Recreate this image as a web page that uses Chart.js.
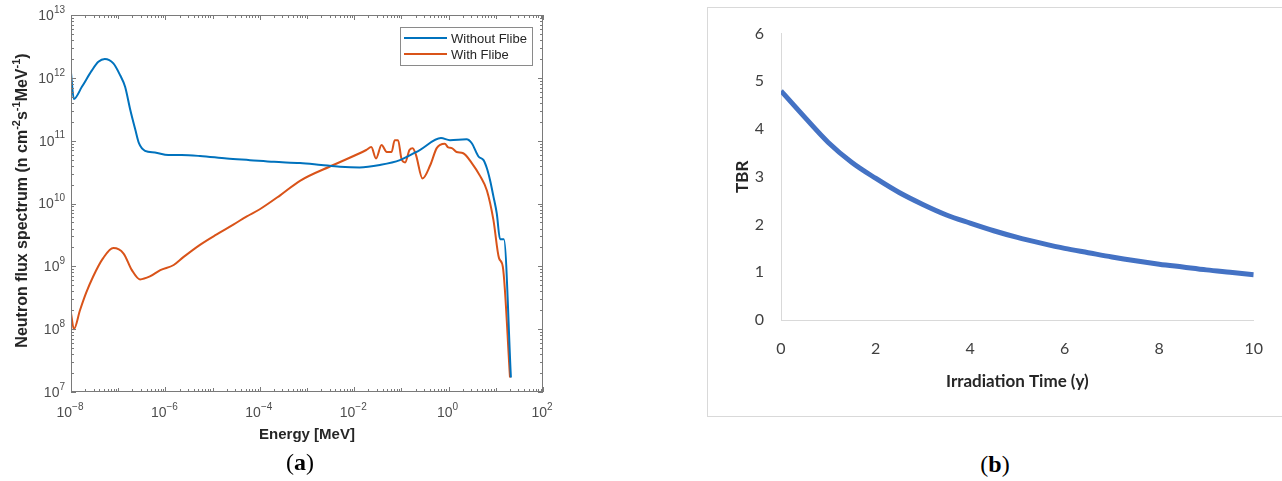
<!DOCTYPE html>
<html>
<head>
<meta charset="utf-8">
<script src="https://cdn.jsdelivr.net/npm/chart.js@4.4.1/dist/chart.umd.min.js"></script>
<style>
  html, body { margin: 0; padding: 0; background: #fff; }
  body { position: relative; width: 1282px; height: 481px; overflow: hidden; }
  #wrapA { position: absolute; left: 0; top: 0; width: 600px; height: 450px; }
  #boxB { position: absolute; left: 707px; top: 7px; width: 640px; height: 408px; border: 1px solid #d9d9d9; }
  #wrapB { position: absolute; left: 707px; top: 7px; width: 575px; height: 409px; }
  .caption { position: absolute; font-family: 'Liberation Serif', 'DejaVu Serif', serif; font-size: 24px; color: #000; transform: translate(-50%, -50%); white-space: nowrap; }
</style>
</head>
<body>
<div id="wrapA"><canvas id="chartFlux" width="600" height="450"></canvas></div>
<div id="boxB"></div>
<div id="wrapB"><canvas id="chartTbr" width="575" height="409"></canvas></div>
<div class="caption" style="left:300px; top:462px;">(<b>a</b>)</div>
<div class="caption" style="left:995px; top:464px;">(<b>b</b>)</div>

<script>
// (a) neutron flux spectrum
const energyWithout = [1.0e-8, 1.15e-8, 1.7e-8, 2.75e-8, 3.8e-8, 5.2e-8, 7.9e-8, 1.1e-7, 1.4e-7, 1.8e-7,
  2.3e-7, 2.75e-7, 3.7e-7, 6.0e-7, 1.15e-6, 2.2e-6, 5.4e-6, 2.0e-5, 6.2e-5, 2.0e-4,
  7.1e-4, 2.0e-3, 5.0e-3, 1.3e-2, 3.5e-2, 9.3e-2, 0.245, 0.69, 1.07, 2.4,
  3.1, 4.3, 5.5, 6.5, 7.6, 8.9, 10.5, 12.3, 14.8, 20.9];
const fluxWithout = [1.2e12, 4.6e11, 7.2e11, 1.3e12, 1.8e12, 2.0e12, 1.7e12, 1.1e12, 7.2e11, 3.1e11,
  1.5e11, 9.1e10, 6.9e10, 6.5e10, 5.9e10, 5.9e10, 5.7e10, 5.2e10, 4.9e10, 4.6e10,
  4.4e10, 4.1e10, 3.85e10, 3.75e10, 4.1e10, 4.9e10, 7.1e10, 1.1e11, 1.02e11, 1.05e11,
  9.1e10, 5.6e10, 4.9e10, 3.6e10, 2.3e10, 1.3e10, 6.9e9, 2.7e9, 2.7e9, 1.7e7];

const energyWith = [1.0e-8, 1.15e-8, 1.55e-8, 2.1e-8, 2.95e-8, 4.8e-8, 7.9e-8, 1.3e-7, 1.95e-7, 2.9e-7,
  4.7e-7, 7.8e-7, 1.5e-6, 2.4e-6, 5.4e-6, 1.2e-5, 2.75e-5, 5.2e-5, 1.0e-4, 2.7e-4,
  7.1e-4, 3.6e-3, 1.8e-2, 2.3e-2, 2.9e-2, 3.8e-2, 4.9e-2, 6.2e-2, 7.2e-2, 8.5e-2,
  0.10, 0.12, 0.148, 0.174, 0.204, 0.28, 0.41, 0.56, 0.83, 0.98,
  1.17, 1.48, 2.04, 3.1, 4.7, 6.5, 8.9, 11.7, 14.1, 20.0];
const fluxWith = [1.8e8, 1.0e8, 2.0e8, 3.8e8, 6.9e8, 1.35e9, 1.95e9, 1.6e9, 8.7e8, 6.2e8,
  6.9e8, 8.7e8, 1.05e9, 1.4e9, 2.2e9, 3.2e9, 4.6e9, 6.2e9, 8.1e9, 1.35e10,
  2.3e10, 4.1e10, 7.1e10, 7.9e10, 5.2e10, 8.5e10, 6.6e10, 6.6e10, 1.02e11, 1.02e11,
  5.2e10, 4.5e10, 7.1e10, 7.6e10, 5.9e10, 2.5e10, 4.1e10, 7.6e10, 8.9e10, 7.8e10,
  7.6e10, 6.6e10, 6.3e10, 4.4e10, 2.7e10, 1.6e10, 5.5e9, 1.35e9, 9.8e8, 1.7e7];

const energyTicks = [1e-8, 1e-6, 1e-4, 1e-2, 1e0, 1e2];
const fluxTicks = [1e7, 1e8, 1e9, 1e10, 1e11, 1e12, 1e13];

// (b) TBR against irradiation time
const tbrTime = [0, 0.5, 1, 1.5, 2, 2.5, 3, 3.5, 4, 4.5, 5, 5.5, 6, 6.5, 7, 7.5, 8, 8.5, 9, 9.5, 10];
const tbrValue = [4.8, 4.25, 3.72, 3.3, 2.97, 2.67, 2.42, 2.2, 2.03, 1.87, 1.73, 1.61, 1.50, 1.41, 1.32, 1.24, 1.17, 1.11, 1.05, 1.0, 0.95];
const timeTicks = [0, 2, 4, 6, 8, 10];

const BLUE = '#0072BD';
const ORANGE = '#D95319';
const AXIS_GREY = '#7a7a7a';
const SANS = "'Liberation Sans', Arial, sans-serif";

const toPoints = (xs, ys) => xs.map((x, i) => ({ x, y: ys[i] }));

// "10" with a raised exponent, the way MATLAB writes log tick labels
function drawPower(ctx, v, x, y, align) {
  const exp = String(Math.round(Math.log10(v))).replace('-', '\u2212');
  ctx.font = '14px ' + SANS;
  const wBase = ctx.measureText('10').width;
  ctx.font = '10px ' + SANS;
  const wExp = ctx.measureText(exp).width;
  const total = wBase + wExp;
  const x0 = align === 'center' ? x - total / 2 : x - total;
  ctx.textAlign = 'left';
  ctx.textBaseline = 'middle';
  ctx.font = '14px ' + SANS;
  ctx.fillText('10', x0, y);
  ctx.font = '10px ' + SANS;
  ctx.fillText(exp, x0 + wBase, y - 6);
}

// rotated y title with real superscripts
function drawFluxTitle(ctx, cx, cy) {
  const parts = [
    ['Neutron flux spectrum (n cm', false], ['-2', true], ['s', false], ['-1', true],
    ['MeV', false], ['-1', true], [')', false],
  ];
  const big = 'bold 16px ' + SANS;
  const small = 'bold 11px ' + SANS;
  let total = 0;
  parts.forEach(([t, sup]) => { ctx.font = sup ? small : big; total += ctx.measureText(t).width; });
  ctx.save();
  ctx.translate(cx, cy);
  ctx.rotate(-Math.PI / 2);
  ctx.fillStyle = '#262626';
  ctx.textAlign = 'left';
  ctx.textBaseline = 'alphabetic';
  let pos = -total / 2;
  parts.forEach(([t, sup]) => {
    ctx.font = sup ? small : big;
    ctx.fillText(t, pos, sup ? -7 : 0);
    pos += ctx.measureText(t).width;
  });
  ctx.restore();
}

// box + inward ticks on all four sides, tick labels, y title and the legend
const matlabFrame = {
  id: 'matlabFrame',
  afterDatasetsDraw(chart) {
    const { ctx, chartArea: a, scales: { x, y } } = chart;
    ctx.save();
    ctx.strokeStyle = AXIS_GREY;
    ctx.lineWidth = 1;
    ctx.strokeRect(a.left + 0.5, a.top + 0.5, a.right - a.left - 1, a.bottom - a.top - 1);

    ctx.beginPath();
    for (let e = -8; e <= 2; e++) {
      for (let m = 1; m <= 9; m++) {
        const v = m * Math.pow(10, e);
        if (v > 1e2 * 1.0001) break;
        const px = Math.round(x.getPixelForValue(v)) + 0.5;
        const len = m === 1 ? (e % 2 === 0 ? 5 : 4) : 3;
        ctx.moveTo(px, a.bottom); ctx.lineTo(px, a.bottom - len);
        ctx.moveTo(px, a.top); ctx.lineTo(px, a.top + len);
      }
    }
    for (let e = 7; e <= 13; e++) {
      for (let m = 1; m <= 9; m++) {
        const v = m * Math.pow(10, e);
        if (v > 1e13 * 1.0001) break;
        const py = Math.round(y.getPixelForValue(v)) + 0.5;
        const len = m === 1 ? 5 : 3;
        ctx.moveTo(a.left, py); ctx.lineTo(a.left + len, py);
        ctx.moveTo(a.right, py); ctx.lineTo(a.right - len, py);
      }
    }
    ctx.stroke();

    ctx.fillStyle = '#4d4d4d';
    x.ticks.forEach((t) => drawPower(ctx, t.value, x.getPixelForValue(t.value) - 1, a.bottom + 21, 'center'));
    y.ticks.forEach((t) => drawPower(ctx, t.value, a.left - 6, y.getPixelForValue(t.value) + 1, 'right'));

    drawFluxTitle(ctx, 27, (a.top + a.bottom) / 2 - 3);

    // legend box in the upper right corner
    const bw = 132, bh = 38;
    const bx = a.right - 11 - bw, by = a.top + 12;
    ctx.fillStyle = '#fff';
    ctx.fillRect(bx, by, bw, bh);
    ctx.strokeStyle = '#8a8a8a';
    ctx.strokeRect(bx + 0.5, by + 0.5, bw, bh);
    ctx.font = '13px ' + SANS;
    ctx.textAlign = 'left';
    ctx.textBaseline = 'middle';
    chart.data.datasets.forEach((ds, i) => {
      const ly = by + 11 + i * 16;
      ctx.strokeStyle = ds.borderColor;
      ctx.lineWidth = 2;
      ctx.beginPath();
      ctx.moveTo(bx + 4, ly); ctx.lineTo(bx + 47, ly);
      ctx.stroke();
      ctx.fillStyle = '#262626';
      ctx.fillText(ds.label, bx + 51, ly + 1);
    });
    ctx.restore();
  },
};

new Chart(document.getElementById('chartFlux'), {
  type: 'line',
  data: {
    datasets: [
      {
        label: 'Without Flibe',
        data: toPoints(energyWithout, fluxWithout),
        borderColor: BLUE,
        borderWidth: 2,
        pointRadius: 0,
        cubicInterpolationMode: 'monotone',
      },
      {
        label: 'With Flibe',
        data: toPoints(energyWith, fluxWith),
        borderColor: ORANGE,
        borderWidth: 2,
        pointRadius: 0,
        cubicInterpolationMode: 'monotone',
      },
    ],
  },
  options: {
    responsive: false,
    animation: false,
    layout: { padding: { top: 15, right: 57, left: 0, bottom: 0 } },
    plugins: { legend: { display: false }, tooltip: { enabled: false } },
    scales: {
      x: {
        type: 'logarithmic',
        min: 1e-8,
        max: 1e2,
        afterBuildTicks(scale) { scale.ticks = energyTicks.map((value) => ({ value })); },
        afterFit(scale) { scale.height = 58; },
        grid: { display: false, drawTicks: false },
        border: { display: false },
        ticks: { display: false },
        title: {
          display: true,
          text: 'Energy [MeV]',
          color: '#262626',
          font: { family: SANS, size: 15, weight: 'bold' },
          padding: { top: 0, bottom: 6 },
        },
      },
      y: {
        type: 'logarithmic',
        min: 1e7,
        max: 1e13,
        afterBuildTicks(scale) { scale.ticks = fluxTicks.map((value) => ({ value })); },
        afterFit(scale) { scale.width = 71; },
        grid: { display: false, drawTicks: false },
        border: { display: false },
        ticks: { display: false },
      },
    },
  },
  plugins: [matlabFrame],
});

const EXCEL_FONT = "Lato, 'Open Sans', sans-serif";

new Chart(document.getElementById('chartTbr'), {
  type: 'line',
  data: {
    datasets: [{
      label: 'TBR',
      data: toPoints(tbrTime, tbrValue),
      borderColor: '#4472C4',
      borderWidth: 5,
      pointRadius: 0,
      cubicInterpolationMode: 'monotone',
    }],
  },
  options: {
    responsive: false,
    animation: false,
    layout: { padding: { top: 23, right: 25, left: 0, bottom: 0 } },
    plugins: { legend: { display: false }, tooltip: { enabled: false } },
    scales: {
      x: {
        type: 'linear',
        min: 0,
        max: 10,
        afterBuildTicks(scale) { scale.ticks = timeTicks.map((value) => ({ value })); },
        afterFit(scale) { scale.height = 96; },
        grid: { display: false, drawTicks: false },
        border: { display: true, color: '#d9d9d9', width: 1 },
        ticks: { padding: 19, color: '#404040', font: { family: EXCEL_FONT, size: 16 } },
        title: {
          display: true,
          text: 'Irradiation Time (y)',
          color: '#262626',
          font: { family: EXCEL_FONT, size: 17, weight: 'bold' },
          padding: { top: 0, bottom: 24 },
        },
      },
      y: {
        min: 0,
        max: 6,
        ticks: { stepSize: 1, padding: 17, color: '#404040', font: { family: EXCEL_FONT, size: 16 } },
        afterFit(scale) { scale.width = 74; },
        grid: { display: false, drawTicks: false },
        border: { display: true, color: '#d9d9d9', width: 1 },
        title: {
          display: true,
          text: 'TBR',
          color: '#262626',
          font: { family: EXCEL_FONT, size: 17, weight: 'bold' },
          padding: { top: 25, bottom: 0 },
        },
      },
    },
  },
});
</script>
</body>
</html>
